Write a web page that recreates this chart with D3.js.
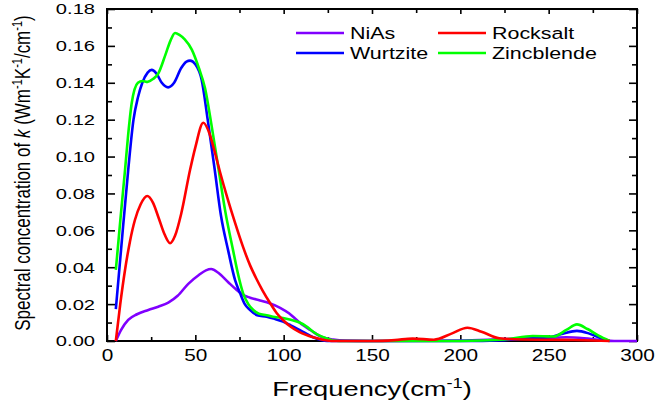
<!DOCTYPE html>
<html><head><meta charset="utf-8">
<script src="https://cdn.jsdelivr.net/npm/d3@7"></script>
<style>
body{margin:0;background:#fff}
svg{display:block}
text{font-family:"Liberation Sans",Arial,Helvetica,sans-serif;fill:#000}
</style>
</head><body>
<svg id="c" width="666" height="408"></svg>
<script>
// ---------- data ----------
const xTicks = [0, 50, 100, 150, 200, 250, 300];
const xMinor = [25, 75, 125, 175, 225, 275];
const yTicks = [0, 0.02, 0.04, 0.06, 0.08, 0.10, 0.12, 0.14, 0.16, 0.18];
const yTickLabels = ["0.00","0.02","0.04","0.06","0.08","0.10","0.12","0.14","0.16","0.18"];
const yMinor = [0.01, 0.03, 0.05, 0.07, 0.09, 0.11, 0.13, 0.15, 0.17];

const seriesNames = ["NiAs", "Wurtzite", "Rocksalt", "Zincblende"];
const seriesColors = ["#8000ff", "#0000ff", "#ff0000", "#00ff00"];

const niasFreq = [5, 8, 12, 17, 23.4, 29, 34.7, 40, 46, 52, 56, 59, 63, 68.5, 73, 77, 81, 86.6, 92, 98, 103, 107.4, 111, 115, 122, 128, 135, 150, 200, 225, 245, 260, 270, 280, 287, 300];
const niasK    = [0, 0.006, 0.0114, 0.0145, 0.0168, 0.0186, 0.0208, 0.0245, 0.031, 0.0358, 0.0383, 0.039, 0.037, 0.032, 0.028, 0.025, 0.0235, 0.022, 0.0205, 0.018, 0.015, 0.0114, 0.0085, 0.006, 0.002, 0.0008, 0.0002, 0, 0.0002, 0.001, 0.0015, 0.002, 0.0015, 0.0005, 0, 0];

const wurtFreq = [5, 8, 12, 15, 17.5, 20, 23, 25.3, 28, 31, 34.6, 38, 42, 45, 47, 50, 53.6, 57, 61, 64.5, 68.6, 72.5, 75.3, 78, 81, 85, 90.4, 95, 99.6, 104, 109, 116.7, 124.5, 135, 170, 200, 225, 240, 250, 258, 266, 273, 279, 284.5];
const wurtK    = [0.0173, 0.05, 0.0927, 0.12, 0.132, 0.140, 0.1455, 0.147, 0.145, 0.140, 0.1375, 0.140, 0.148, 0.1515, 0.152, 0.150, 0.1415, 0.12, 0.0927, 0.068, 0.049, 0.033, 0.026, 0.020, 0.0168, 0.014, 0.0132, 0.012, 0.0105, 0.0085, 0.006, 0.002, 0, 0, 0, 0, 0.0005, 0.0015, 0.002, 0.004, 0.0055, 0.004, 0.0018, 0];

const rockFreq = [5, 7.5, 10.2, 13, 15.8, 19, 22.8, 26, 29, 32.5, 35.7, 38.5, 42, 47, 50, 54.5, 58, 61, 64, 68, 72.5, 77, 81, 84.7, 88, 92.3, 96, 99.6, 104, 109, 116.7, 124.5, 130, 150, 163, 173, 185, 195, 204, 212, 222, 235, 260, 275, 284.5];
const rockK    = [0, 0.02, 0.0385, 0.054, 0.0656, 0.074, 0.0786, 0.075, 0.0674, 0.058, 0.053, 0.057, 0.069, 0.0927, 0.105, 0.1183, 0.1125, 0.1025, 0.0915, 0.078, 0.064, 0.051, 0.041, 0.0335, 0.0275, 0.0206, 0.0152, 0.0114, 0.0077, 0.0048, 0.002, 0.0003, 0, 0, 0.0005, 0.0013, 0.0007, 0.004, 0.0072, 0.005, 0.0015, 0.0008, 0.0006, 0.0003, 0];

const zincFreq = [5, 7.5, 10.2, 12, 14, 17.5, 20, 23, 26, 29, 33, 36, 38.5, 41, 44, 48, 52, 55.5, 59, 63, 67, 71.4, 74, 77, 80, 82.8, 86, 90.4, 95, 99.6, 104, 109, 113, 116.7, 120, 124.5, 128, 135, 150, 170, 200, 225, 241, 247, 253, 260, 266, 272, 278, 284.5];
const zincK    = [0.0385, 0.065, 0.0927, 0.112, 0.129, 0.140, 0.141, 0.1405, 0.142, 0.145, 0.155, 0.163, 0.167, 0.166, 0.1635, 0.158, 0.148, 0.137, 0.118, 0.094, 0.070, 0.049, 0.037, 0.026, 0.020, 0.0168, 0.0148, 0.014, 0.013, 0.0125, 0.0115, 0.010, 0.0078, 0.005, 0.003, 0.0014, 0.0003, 0, 0, 0, 0, 0.0008, 0.0027, 0.0026, 0.0024, 0.006, 0.009, 0.0065, 0.003, 0];

const seriesFreq = [niasFreq, wurtFreq, rockFreq, zincFreq];
const seriesK = [niasK, wurtK, rockK, zincK];

// ---------- chart ----------
const SX = 1.3; // horizontal stretch of the original text
const svg = d3.select("#c");
const x = d3.scaleLinear().domain([0, 300]).range([107, 637]);
const y = d3.scaleLinear().domain([0, 0.18]).range([341, 9]);

function styleAxis(g) {
  g.select(".domain").remove();
  g.selectAll(".tick line").attr("stroke", "#000").attr("stroke-width", 1.6);
}

// bottom
const gB = svg.append("g").attr("transform", `translate(0,${y(0)})`)
  .call(d3.axisBottom(x).tickValues(xTicks).tickSizeInner(-6).tickSizeOuter(0).tickPadding(9).tickFormat(d3.format("d")))
  .call(styleAxis);
gB.selectAll(".tick text").attr("font-size", 16).attr("font-family", null)
  .attr("transform", `scale(${SX},1)`);
svg.append("g").attr("transform", `translate(0,${y(0)})`)
  .call(d3.axisBottom(x).tickValues(xMinor).tickSizeInner(-4).tickSizeOuter(0).tickFormat(""))
  .call(styleAxis);
// top
svg.append("g").attr("transform", `translate(0,${y(0.18)})`)
  .call(d3.axisTop(x).tickValues(xTicks).tickSizeInner(-5).tickSizeOuter(0).tickFormat(""))
  .call(styleAxis);
svg.append("g").attr("transform", `translate(0,${y(0.18)})`)
  .call(d3.axisTop(x).tickValues(xMinor).tickSizeInner(-4).tickSizeOuter(0).tickFormat(""))
  .call(styleAxis);
// left
const gL = svg.append("g").attr("transform", `translate(${x(0)},0)`)
  .call(d3.axisLeft(y).tickValues(yTicks).tickSizeInner(-8).tickSizeOuter(0).tickPadding(9.2)
    .tickFormat((d, i) => yTickLabels[i]))
  .call(styleAxis);
gL.selectAll(".tick text").attr("font-size", 15.5).attr("font-family", null)
  .attr("transform", `scale(${SX},1)`);
svg.append("g").attr("transform", `translate(${x(0)},0)`)
  .call(d3.axisLeft(y).tickValues(yMinor).tickSizeInner(-5).tickSizeOuter(0).tickFormat(""))
  .call(styleAxis);
// right
svg.append("g").attr("transform", `translate(${x(300)},0)`)
  .call(d3.axisRight(y).tickValues(yTicks).tickSizeInner(-8).tickSizeOuter(0).tickFormat(""))
  .call(styleAxis);
svg.append("g").attr("transform", `translate(${x(300)},0)`)
  .call(d3.axisRight(y).tickValues(yMinor).tickSizeInner(-5).tickSizeOuter(0).tickFormat(""))
  .call(styleAxis);

// frame
svg.append("rect").attr("x", x(0)).attr("y", y(0.18))
  .attr("width", x(300) - x(0)).attr("height", y(0) - y(0.18))
  .attr("fill", "none").attr("stroke", "#000").attr("stroke-width", 2);

// curves
const line = d3.line().x(d => x(d[0])).y(d => y(d[1])).curve(d3.curveMonotoneX);
const drawOrder = [0, 1, 3, 2];
drawOrder.forEach(i => {
  const pts = seriesFreq[i].map((f, j) => [f, seriesK[i][j]]);
  svg.append("path").datum(pts).attr("d", line)
    .attr("fill", "none").attr("stroke", seriesColors[i])
    .attr("stroke-width", 2.6).attr("stroke-linejoin", "round").attr("stroke-linecap", "butt");
});

// legend
const legPos = [[296, 33], [296, 53], [438, 33], [438, 53]];
seriesNames.forEach((name, i) => {
  const [lx, ly] = legPos[i];
  svg.append("line").attr("x1", lx).attr("x2", lx + 48).attr("y1", ly).attr("y2", ly)
    .attr("stroke", seriesColors[i]).attr("stroke-width", 2.6);
  svg.append("g").attr("transform", `translate(${lx + 54},${ly + 6}) scale(${SX},1)`)
    .append("text").attr("font-size", 16.5).text(name);
});

// x title
const xt = svg.append("g").attr("transform", `translate(${(x(0) + x(300)) / 2},396) scale(${SX},1)`)
  .append("text").attr("text-anchor", "middle").attr("font-size", 21);
xt.append("tspan").text("Frequency(cm");
xt.append("tspan").attr("dy", -8).attr("font-size", 14).text("-1");
xt.append("tspan").attr("dy", 8).text(")");

// y title
const yt = svg.append("g").attr("transform", `translate(30,173) scale(${SX},1) rotate(-90)`)
  .append("text").attr("text-anchor", "middle").attr("font-size", 17);
yt.append("tspan").text("Spectral concentration of ");
yt.append("tspan").attr("font-style", "italic").text("k");
yt.append("tspan").text(" (Wm");
yt.append("tspan").attr("dy", -6).attr("font-size", 11).text("-1");
yt.append("tspan").attr("dy", 6).text("K");
yt.append("tspan").attr("dy", -6).attr("font-size", 11).text("-1");
yt.append("tspan").attr("dy", 6).text("/cm");
yt.append("tspan").attr("dy", -6).attr("font-size", 11).text("-1");
yt.append("tspan").attr("dy", 6).text(")");
</script>
</body></html>
